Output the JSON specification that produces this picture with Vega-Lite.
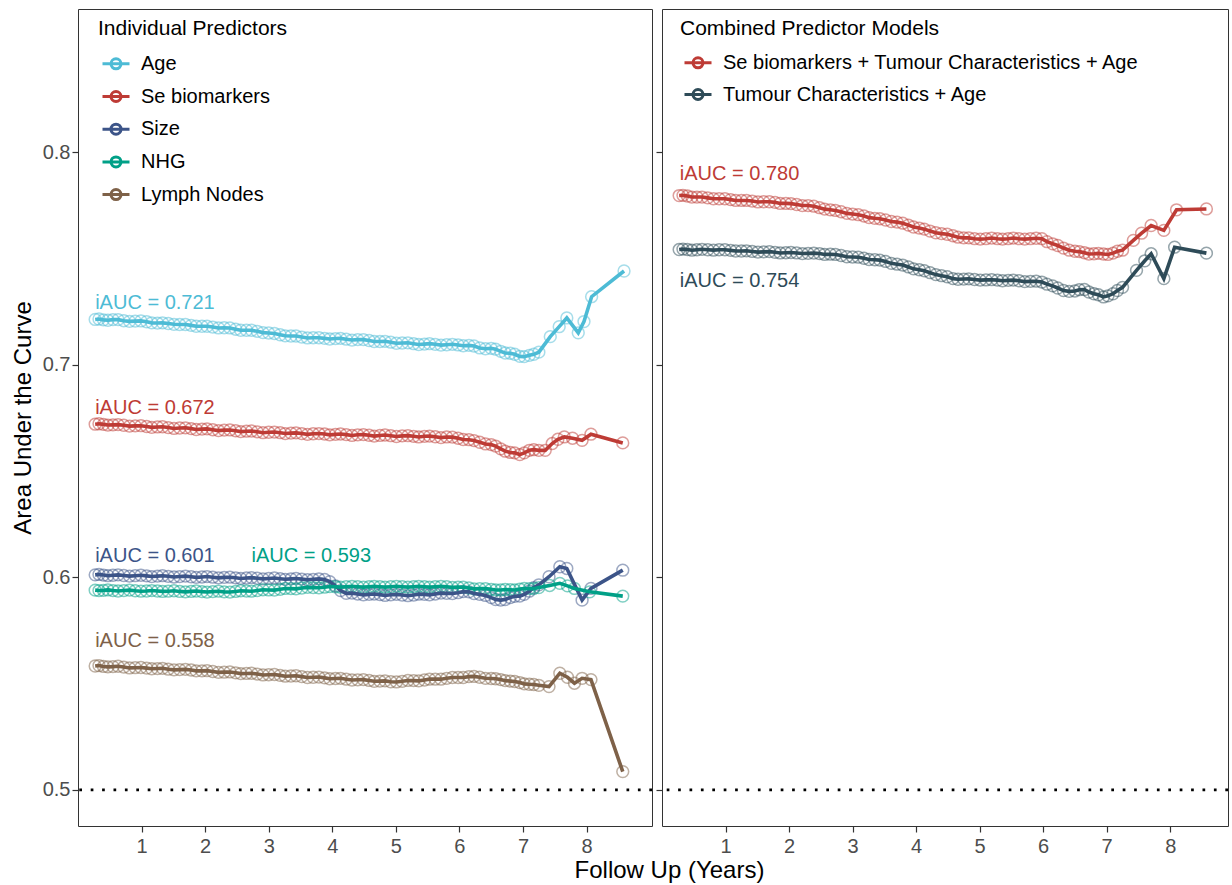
{
  "$schema": "https://vega.github.io/schema/vega-lite/v6.json",
  "padding": {"left": 10, "top": 8, "right": 2, "bottom": 0},
  "background": "white",
  "bounds": "flush",
  "spacing": 10,
  "config": {
    "font": "Liberation Sans",
    "view": {"stroke": "#333333", "strokeWidth": 1},
    "axis": {"grid": false, "domain": false, "tickColor": "#333333", "tickSize": 6, "tickWidth": 1.2, "labelFont": "Liberation Sans", "labelFontSize": 20, "labelColor": "#4d4d4d", "titleFont": "Liberation Sans", "titleFontSize": 24, "titleFontWeight": "normal", "titleColor": "#000000"},
    "legend": {"titleFont": "Liberation Sans", "labelFont": "Liberation Sans", "titleFontSize": 21, "titleFontWeight": "normal", "titleColor": "#000000", "labelFontSize": 20, "labelColor": "#000000", "padding": 0, "labelLimit": 800, "titleLimit": 800},
    "text": {"font": "Liberation Sans", "fontSize": 20, "align": "left", "baseline": "middle"}
  },
  "datasets": {
    "ind": [
      {"s":"Age","x":0.27,"y":0.7214},{"s":"Age","x":0.40,"y":0.7212},{"s":"Age","x":0.55,"y":0.7213},{"s":"Age","x":0.72,"y":0.7208},{"s":"Age","x":0.9,"y":0.7206},{"s":"Age","x":1.08,"y":0.7203},{"s":"Age","x":1.25,"y":0.7197},{"s":"Age","x":1.42,"y":0.7195},{"s":"Age","x":1.6,"y":0.719},{"s":"Age","x":1.78,"y":0.7186},{"s":"Age","x":1.95,"y":0.7182},{"s":"Age","x":2.12,"y":0.7178},{"s":"Age","x":2.3,"y":0.7175},{"s":"Age","x":2.48,"y":0.7168},{"s":"Age","x":2.65,"y":0.7163},{"s":"Age","x":2.82,"y":0.7158},{"s":"Age","x":3.0,"y":0.715},{"s":"Age","x":3.18,"y":0.7142},{"s":"Age","x":3.35,"y":0.7136},{"s":"Age","x":3.52,"y":0.7131},{"s":"Age","x":3.7,"y":0.7128},{"s":"Age","x":3.88,"y":0.7125},{"s":"Age","x":4.05,"y":0.7124},{"s":"Age","x":4.22,"y":0.7121},{"s":"Age","x":4.4,"y":0.7119},{"s":"Age","x":4.58,"y":0.7115},{"s":"Age","x":4.75,"y":0.711},{"s":"Age","x":4.92,"y":0.7107},{"s":"Age","x":5.1,"y":0.7103},{"s":"Age","x":5.28,"y":0.71},{"s":"Age","x":5.45,"y":0.7098},{"s":"Age","x":5.62,"y":0.7097},{"s":"Age","x":5.8,"y":0.7095},{"s":"Age","x":5.98,"y":0.7094},{"s":"Age","x":6.15,"y":0.7092},{"s":"Age","x":6.32,"y":0.708},{"s":"Age","x":6.5,"y":0.7078},{"s":"Age","x":6.65,"y":0.7064},{"s":"Age","x":6.8,"y":0.7055},{"s":"Age","x":6.95,"y":0.704},{"s":"Age","x":7.1,"y":0.7045},{"s":"Age","x":7.25,"y":0.706},{"s":"Age","x":7.43,"y":0.7133},{"s":"Age","x":7.57,"y":0.718},{"s":"Age","x":7.69,"y":0.7221},{"s":"Age","x":7.87,"y":0.7151},{"s":"Age","x":7.96,"y":0.7204},{"s":"Age","x":8.08,"y":0.7321},{"s":"Age","x":8.59,"y":0.7442},
      {"s":"Age","x":0.33,"y":0.7216},{"s":"Age","x":0.47,"y":0.721},{"s":"Age","x":0.63,"y":0.7213},{"s":"Age","x":0.81,"y":0.7205},{"s":"Age","x":0.99,"y":0.7207},{"s":"Age","x":1.16,"y":0.7198},{"s":"Age","x":1.33,"y":0.7198},{"s":"Age","x":1.51,"y":0.7191},{"s":"Age","x":1.69,"y":0.719},{"s":"Age","x":1.86,"y":0.7182},{"s":"Age","x":2.03,"y":0.7182},{"s":"Age","x":2.21,"y":0.7174},{"s":"Age","x":2.39,"y":0.7174},{"s":"Age","x":2.56,"y":0.7163},{"s":"Age","x":2.73,"y":0.7163},{"s":"Age","x":2.91,"y":0.7152},{"s":"Age","x":3.09,"y":0.7148},{"s":"Age","x":3.26,"y":0.7137},{"s":"Age","x":3.43,"y":0.7136},{"s":"Age","x":3.61,"y":0.7127},{"s":"Age","x":3.79,"y":0.7128},{"s":"Age","x":3.96,"y":0.7122},{"s":"Age","x":4.13,"y":0.7125},{"s":"Age","x":4.31,"y":0.7117},{"s":"Age","x":4.49,"y":0.7119},{"s":"Age","x":4.66,"y":0.711},{"s":"Age","x":4.83,"y":0.7111},{"s":"Age","x":5.01,"y":0.7102},{"s":"Age","x":5.19,"y":0.7104},{"s":"Age","x":5.36,"y":0.7096},{"s":"Age","x":5.53,"y":0.71},{"s":"Age","x":5.71,"y":0.7093},{"s":"Age","x":5.89,"y":0.7097},{"s":"Age","x":6.06,"y":0.709},{"s":"Age","x":6.23,"y":0.7089},{"s":"Age","x":6.41,"y":0.7076},{"s":"Age","x":6.57,"y":0.7074},{"s":"Age","x":6.72,"y":0.7056},{"s":"Age","x":6.87,"y":0.705},{"s":"Age","x":7.02,"y":0.7039},{"s":"Age","x":7.17,"y":0.705},
      {"s":"Se biomarkers","x":0.27,"y":0.6721},{"s":"Se biomarkers","x":0.40,"y":0.672},{"s":"Se biomarkers","x":0.55,"y":0.6718},{"s":"Se biomarkers","x":0.72,"y":0.6716},{"s":"Se biomarkers","x":0.9,"y":0.6713},{"s":"Se biomarkers","x":1.08,"y":0.671},{"s":"Se biomarkers","x":1.25,"y":0.6708},{"s":"Se biomarkers","x":1.42,"y":0.6705},{"s":"Se biomarkers","x":1.6,"y":0.6703},{"s":"Se biomarkers","x":1.78,"y":0.67},{"s":"Se biomarkers","x":1.95,"y":0.6698},{"s":"Se biomarkers","x":2.12,"y":0.6695},{"s":"Se biomarkers","x":2.3,"y":0.6693},{"s":"Se biomarkers","x":2.48,"y":0.669},{"s":"Se biomarkers","x":2.65,"y":0.6688},{"s":"Se biomarkers","x":2.82,"y":0.6685},{"s":"Se biomarkers","x":3.0,"y":0.6683},{"s":"Se biomarkers","x":3.18,"y":0.6681},{"s":"Se biomarkers","x":3.35,"y":0.6679},{"s":"Se biomarkers","x":3.52,"y":0.6677},{"s":"Se biomarkers","x":3.7,"y":0.6676},{"s":"Se biomarkers","x":3.88,"y":0.6675},{"s":"Se biomarkers","x":4.05,"y":0.6673},{"s":"Se biomarkers","x":4.22,"y":0.6672},{"s":"Se biomarkers","x":4.4,"y":0.6671},{"s":"Se biomarkers","x":4.58,"y":0.6669},{"s":"Se biomarkers","x":4.75,"y":0.6668},{"s":"Se biomarkers","x":4.92,"y":0.6667},{"s":"Se biomarkers","x":5.1,"y":0.6666},{"s":"Se biomarkers","x":5.28,"y":0.6664},{"s":"Se biomarkers","x":5.45,"y":0.6664},{"s":"Se biomarkers","x":5.62,"y":0.6662},{"s":"Se biomarkers","x":5.8,"y":0.6661},{"s":"Se biomarkers","x":5.98,"y":0.6655},{"s":"Se biomarkers","x":6.15,"y":0.6648},{"s":"Se biomarkers","x":6.32,"y":0.6636},{"s":"Se biomarkers","x":6.5,"y":0.6625},{"s":"Se biomarkers","x":6.65,"y":0.6605},{"s":"Se biomarkers","x":6.8,"y":0.6588},{"s":"Se biomarkers","x":6.95,"y":0.6578},{"s":"Se biomarkers","x":7.1,"y":0.6598},{"s":"Se biomarkers","x":7.25,"y":0.6598},{"s":"Se biomarkers","x":7.35,"y":0.6598},{"s":"Se biomarkers","x":7.46,"y":0.663},{"s":"Se biomarkers","x":7.55,"y":0.665},{"s":"Se biomarkers","x":7.65,"y":0.6661},{"s":"Se biomarkers","x":7.78,"y":0.6655},{"s":"Se biomarkers","x":7.93,"y":0.6645},{"s":"Se biomarkers","x":8.07,"y":0.6674},{"s":"Se biomarkers","x":8.57,"y":0.6633},
      {"s":"Se biomarkers","x":0.33,"y":0.6723},{"s":"Se biomarkers","x":0.47,"y":0.6717},{"s":"Se biomarkers","x":0.63,"y":0.6719},{"s":"Se biomarkers","x":0.81,"y":0.6712},{"s":"Se biomarkers","x":0.99,"y":0.6714},{"s":"Se biomarkers","x":1.16,"y":0.6706},{"s":"Se biomarkers","x":1.33,"y":0.6709},{"s":"Se biomarkers","x":1.51,"y":0.6701},{"s":"Se biomarkers","x":1.69,"y":0.6704},{"s":"Se biomarkers","x":1.86,"y":0.6696},{"s":"Se biomarkers","x":2.03,"y":0.6699},{"s":"Se biomarkers","x":2.21,"y":0.6691},{"s":"Se biomarkers","x":2.39,"y":0.6694},{"s":"Se biomarkers","x":2.56,"y":0.6686},{"s":"Se biomarkers","x":2.73,"y":0.6689},{"s":"Se biomarkers","x":2.91,"y":0.6681},{"s":"Se biomarkers","x":3.09,"y":0.6684},{"s":"Se biomarkers","x":3.26,"y":0.6677},{"s":"Se biomarkers","x":3.43,"y":0.668},{"s":"Se biomarkers","x":3.61,"y":0.6673},{"s":"Se biomarkers","x":3.79,"y":0.6677},{"s":"Se biomarkers","x":3.96,"y":0.6671},{"s":"Se biomarkers","x":4.13,"y":0.6675},{"s":"Se biomarkers","x":4.31,"y":0.6668},{"s":"Se biomarkers","x":4.49,"y":0.6672},{"s":"Se biomarkers","x":4.66,"y":0.6665},{"s":"Se biomarkers","x":4.83,"y":0.667},{"s":"Se biomarkers","x":5.01,"y":0.6663},{"s":"Se biomarkers","x":5.19,"y":0.6667},{"s":"Se biomarkers","x":5.36,"y":0.6661},{"s":"Se biomarkers","x":5.53,"y":0.6665},{"s":"Se biomarkers","x":5.71,"y":0.6658},{"s":"Se biomarkers","x":5.89,"y":0.666},{"s":"Se biomarkers","x":6.06,"y":0.6649},{"s":"Se biomarkers","x":6.23,"y":0.6644},{"s":"Se biomarkers","x":6.41,"y":0.6628},{"s":"Se biomarkers","x":6.57,"y":0.6618},{"s":"Se biomarkers","x":6.72,"y":0.6594},{"s":"Se biomarkers","x":6.87,"y":0.6586},{"s":"Se biomarkers","x":7.02,"y":0.6586},{"s":"Se biomarkers","x":7.17,"y":0.6601},
      {"s":"Size","x":0.27,"y":0.6012},{"s":"Size","x":0.40,"y":0.6011},{"s":"Size","x":0.55,"y":0.601},{"s":"Size","x":0.72,"y":0.6009},{"s":"Size","x":0.9,"y":0.6008},{"s":"Size","x":1.08,"y":0.6007},{"s":"Size","x":1.25,"y":0.6006},{"s":"Size","x":1.42,"y":0.6005},{"s":"Size","x":1.6,"y":0.6004},{"s":"Size","x":1.78,"y":0.6003},{"s":"Size","x":1.95,"y":0.6002},{"s":"Size","x":2.12,"y":0.6001},{"s":"Size","x":2.3,"y":0.6},{"s":"Size","x":2.48,"y":0.5998},{"s":"Size","x":2.65,"y":0.5997},{"s":"Size","x":2.82,"y":0.5996},{"s":"Size","x":3.0,"y":0.5995},{"s":"Size","x":3.18,"y":0.5994},{"s":"Size","x":3.35,"y":0.5993},{"s":"Size","x":3.52,"y":0.5992},{"s":"Size","x":3.7,"y":0.5991},{"s":"Size","x":3.88,"y":0.599},{"s":"Size","x":4.05,"y":0.596},{"s":"Size","x":4.22,"y":0.5925},{"s":"Size","x":4.4,"y":0.5922},{"s":"Size","x":4.58,"y":0.592},{"s":"Size","x":4.75,"y":0.5919},{"s":"Size","x":4.92,"y":0.5918},{"s":"Size","x":5.1,"y":0.5917},{"s":"Size","x":5.28,"y":0.5917},{"s":"Size","x":5.45,"y":0.592},{"s":"Size","x":5.62,"y":0.5922},{"s":"Size","x":5.8,"y":0.5925},{"s":"Size","x":5.98,"y":0.5928},{"s":"Size","x":6.15,"y":0.5932},{"s":"Size","x":6.32,"y":0.592},{"s":"Size","x":6.5,"y":0.5905},{"s":"Size","x":6.65,"y":0.5893},{"s":"Size","x":6.8,"y":0.5905},{"s":"Size","x":6.95,"y":0.5912},{"s":"Size","x":7.1,"y":0.5935},{"s":"Size","x":7.25,"y":0.5965},{"s":"Size","x":7.41,"y":0.6003},{"s":"Size","x":7.58,"y":0.605},{"s":"Size","x":7.69,"y":0.6042},{"s":"Size","x":7.93,"y":0.5893},{"s":"Size","x":8.07,"y":0.5948},{"s":"Size","x":8.57,"y":0.6034},
      {"s":"Size","x":0.33,"y":0.6014},{"s":"Size","x":0.47,"y":0.6008},{"s":"Size","x":0.63,"y":0.6012},{"s":"Size","x":0.81,"y":0.6006},{"s":"Size","x":0.99,"y":0.601},{"s":"Size","x":1.16,"y":0.6004},{"s":"Size","x":1.33,"y":0.6008},{"s":"Size","x":1.51,"y":0.6002},{"s":"Size","x":1.69,"y":0.6006},{"s":"Size","x":1.86,"y":0.6},{"s":"Size","x":2.03,"y":0.6004},{"s":"Size","x":2.21,"y":0.5998},{"s":"Size","x":2.39,"y":0.6001},{"s":"Size","x":2.56,"y":0.5995},{"s":"Size","x":2.73,"y":0.5999},{"s":"Size","x":2.91,"y":0.5993},{"s":"Size","x":3.09,"y":0.5997},{"s":"Size","x":3.26,"y":0.5991},{"s":"Size","x":3.43,"y":0.5995},{"s":"Size","x":3.61,"y":0.5989},{"s":"Size","x":3.79,"y":0.5993},{"s":"Size","x":3.96,"y":0.598},{"s":"Size","x":4.13,"y":0.5938},{"s":"Size","x":4.31,"y":0.5926},{"s":"Size","x":4.49,"y":0.5918},{"s":"Size","x":4.66,"y":0.5922},{"s":"Size","x":4.83,"y":0.5915},{"s":"Size","x":5.01,"y":0.592},{"s":"Size","x":5.19,"y":0.5914},{"s":"Size","x":5.36,"y":0.5921},{"s":"Size","x":5.53,"y":0.5918},{"s":"Size","x":5.71,"y":0.5926},{"s":"Size","x":5.89,"y":0.5924},{"s":"Size","x":6.06,"y":0.5933},{"s":"Size","x":6.23,"y":0.5924},{"s":"Size","x":6.41,"y":0.5915},{"s":"Size","x":6.57,"y":0.5896},{"s":"Size","x":6.72,"y":0.5896},{"s":"Size","x":6.87,"y":0.5911},{"s":"Size","x":7.02,"y":0.592},{"s":"Size","x":7.17,"y":0.5952},
      {"s":"NHG","x":0.27,"y":0.594},{"s":"NHG","x":0.40,"y":0.5939},{"s":"NHG","x":0.55,"y":0.5938},{"s":"NHG","x":0.72,"y":0.5938},{"s":"NHG","x":0.9,"y":0.5937},{"s":"NHG","x":1.08,"y":0.5936},{"s":"NHG","x":1.25,"y":0.5936},{"s":"NHG","x":1.42,"y":0.5935},{"s":"NHG","x":1.6,"y":0.5934},{"s":"NHG","x":1.78,"y":0.5934},{"s":"NHG","x":1.95,"y":0.5933},{"s":"NHG","x":2.12,"y":0.5933},{"s":"NHG","x":2.3,"y":0.5932},{"s":"NHG","x":2.48,"y":0.5934},{"s":"NHG","x":2.65,"y":0.5936},{"s":"NHG","x":2.82,"y":0.5938},{"s":"NHG","x":3.0,"y":0.5941},{"s":"NHG","x":3.18,"y":0.5944},{"s":"NHG","x":3.35,"y":0.5947},{"s":"NHG","x":3.52,"y":0.595},{"s":"NHG","x":3.7,"y":0.5952},{"s":"NHG","x":3.88,"y":0.5954},{"s":"NHG","x":4.05,"y":0.5956},{"s":"NHG","x":4.22,"y":0.5956},{"s":"NHG","x":4.4,"y":0.5956},{"s":"NHG","x":4.58,"y":0.5956},{"s":"NHG","x":4.75,"y":0.5956},{"s":"NHG","x":4.92,"y":0.5956},{"s":"NHG","x":5.1,"y":0.5956},{"s":"NHG","x":5.28,"y":0.5956},{"s":"NHG","x":5.45,"y":0.5956},{"s":"NHG","x":5.62,"y":0.5956},{"s":"NHG","x":5.8,"y":0.5956},{"s":"NHG","x":5.98,"y":0.5954},{"s":"NHG","x":6.15,"y":0.595},{"s":"NHG","x":6.32,"y":0.5947},{"s":"NHG","x":6.5,"y":0.5944},{"s":"NHG","x":6.65,"y":0.5941},{"s":"NHG","x":6.8,"y":0.5942},{"s":"NHG","x":6.95,"y":0.5945},{"s":"NHG","x":7.1,"y":0.5947},{"s":"NHG","x":7.25,"y":0.5952},{"s":"NHG","x":7.42,"y":0.5962},{"s":"NHG","x":7.58,"y":0.5972},{"s":"NHG","x":7.7,"y":0.596},{"s":"NHG","x":7.81,"y":0.5948},{"s":"NHG","x":8.05,"y":0.5932},{"s":"NHG","x":8.57,"y":0.5912},
      {"s":"NHG","x":0.33,"y":0.5938},{"s":"NHG","x":0.47,"y":0.5941},{"s":"NHG","x":0.63,"y":0.5936},{"s":"NHG","x":0.81,"y":0.594},{"s":"NHG","x":0.99,"y":0.5935},{"s":"NHG","x":1.16,"y":0.5938},{"s":"NHG","x":1.33,"y":0.5934},{"s":"NHG","x":1.51,"y":0.5937},{"s":"NHG","x":1.69,"y":0.5932},{"s":"NHG","x":1.86,"y":0.5936},{"s":"NHG","x":2.03,"y":0.5931},{"s":"NHG","x":2.21,"y":0.5935},{"s":"NHG","x":2.39,"y":0.5931},{"s":"NHG","x":2.56,"y":0.5937},{"s":"NHG","x":2.73,"y":0.5935},{"s":"NHG","x":2.91,"y":0.5942},{"s":"NHG","x":3.09,"y":0.594},{"s":"NHG","x":3.26,"y":0.5948},{"s":"NHG","x":3.43,"y":0.5946},{"s":"NHG","x":3.61,"y":0.5953},{"s":"NHG","x":3.79,"y":0.5951},{"s":"NHG","x":3.96,"y":0.5957},{"s":"NHG","x":4.13,"y":0.5954},{"s":"NHG","x":4.31,"y":0.5958},{"s":"NHG","x":4.49,"y":0.5954},{"s":"NHG","x":4.66,"y":0.5958},{"s":"NHG","x":4.83,"y":0.5954},{"s":"NHG","x":5.01,"y":0.5958},{"s":"NHG","x":5.19,"y":0.5954},{"s":"NHG","x":5.36,"y":0.5958},{"s":"NHG","x":5.53,"y":0.5954},{"s":"NHG","x":5.71,"y":0.5958},{"s":"NHG","x":5.89,"y":0.5953},{"s":"NHG","x":6.06,"y":0.5954},{"s":"NHG","x":6.23,"y":0.5946},{"s":"NHG","x":6.41,"y":0.5947},{"s":"NHG","x":6.57,"y":0.5941},{"s":"NHG","x":6.72,"y":0.5943},{"s":"NHG","x":6.87,"y":0.5941},{"s":"NHG","x":7.02,"y":0.5948},{"s":"NHG","x":7.17,"y":0.5947},
      {"s":"Lymph Nodes","x":0.27,"y":0.5583},{"s":"Lymph Nodes","x":0.40,"y":0.5581},{"s":"Lymph Nodes","x":0.55,"y":0.558},{"s":"Lymph Nodes","x":0.72,"y":0.5578},{"s":"Lymph Nodes","x":0.9,"y":0.5575},{"s":"Lymph Nodes","x":1.08,"y":0.5573},{"s":"Lymph Nodes","x":1.25,"y":0.5571},{"s":"Lymph Nodes","x":1.42,"y":0.5568},{"s":"Lymph Nodes","x":1.6,"y":0.5566},{"s":"Lymph Nodes","x":1.78,"y":0.5564},{"s":"Lymph Nodes","x":1.95,"y":0.556},{"s":"Lymph Nodes","x":2.12,"y":0.5557},{"s":"Lymph Nodes","x":2.3,"y":0.5554},{"s":"Lymph Nodes","x":2.48,"y":0.5551},{"s":"Lymph Nodes","x":2.65,"y":0.5548},{"s":"Lymph Nodes","x":2.82,"y":0.5545},{"s":"Lymph Nodes","x":3.0,"y":0.5542},{"s":"Lymph Nodes","x":3.18,"y":0.5539},{"s":"Lymph Nodes","x":3.35,"y":0.5536},{"s":"Lymph Nodes","x":3.52,"y":0.5533},{"s":"Lymph Nodes","x":3.7,"y":0.553},{"s":"Lymph Nodes","x":3.88,"y":0.5527},{"s":"Lymph Nodes","x":4.05,"y":0.5524},{"s":"Lymph Nodes","x":4.22,"y":0.5521},{"s":"Lymph Nodes","x":4.4,"y":0.5518},{"s":"Lymph Nodes","x":4.58,"y":0.5515},{"s":"Lymph Nodes","x":4.75,"y":0.5512},{"s":"Lymph Nodes","x":4.92,"y":0.5509},{"s":"Lymph Nodes","x":5.1,"y":0.5511},{"s":"Lymph Nodes","x":5.28,"y":0.5514},{"s":"Lymph Nodes","x":5.45,"y":0.5517},{"s":"Lymph Nodes","x":5.62,"y":0.5521},{"s":"Lymph Nodes","x":5.8,"y":0.5525},{"s":"Lymph Nodes","x":5.98,"y":0.5529},{"s":"Lymph Nodes","x":6.15,"y":0.5533},{"s":"Lymph Nodes","x":6.32,"y":0.553},{"s":"Lymph Nodes","x":6.5,"y":0.5524},{"s":"Lymph Nodes","x":6.65,"y":0.5519},{"s":"Lymph Nodes","x":6.8,"y":0.5512},{"s":"Lymph Nodes","x":6.95,"y":0.5505},{"s":"Lymph Nodes","x":7.1,"y":0.5497},{"s":"Lymph Nodes","x":7.25,"y":0.5492},{"s":"Lymph Nodes","x":7.41,"y":0.5486},{"s":"Lymph Nodes","x":7.58,"y":0.5549},{"s":"Lymph Nodes","x":7.7,"y":0.553},{"s":"Lymph Nodes","x":7.81,"y":0.5502},{"s":"Lymph Nodes","x":7.93,"y":0.5525},{"s":"Lymph Nodes","x":8.07,"y":0.5519},{"s":"Lymph Nodes","x":8.57,"y":0.5086},
      {"s":"Lymph Nodes","x":0.33,"y":0.5585},{"s":"Lymph Nodes","x":0.47,"y":0.5579},{"s":"Lymph Nodes","x":0.63,"y":0.5582},{"s":"Lymph Nodes","x":0.81,"y":0.5574},{"s":"Lymph Nodes","x":0.99,"y":0.5576},{"s":"Lymph Nodes","x":1.16,"y":0.557},{"s":"Lymph Nodes","x":1.33,"y":0.5572},{"s":"Lymph Nodes","x":1.51,"y":0.5565},{"s":"Lymph Nodes","x":1.69,"y":0.5567},{"s":"Lymph Nodes","x":1.86,"y":0.556},{"s":"Lymph Nodes","x":2.03,"y":0.5561},{"s":"Lymph Nodes","x":2.21,"y":0.5553},{"s":"Lymph Nodes","x":2.39,"y":0.5555},{"s":"Lymph Nodes","x":2.56,"y":0.5547},{"s":"Lymph Nodes","x":2.73,"y":0.5549},{"s":"Lymph Nodes","x":2.91,"y":0.5541},{"s":"Lymph Nodes","x":3.09,"y":0.5543},{"s":"Lymph Nodes","x":3.26,"y":0.5535},{"s":"Lymph Nodes","x":3.43,"y":0.5537},{"s":"Lymph Nodes","x":3.61,"y":0.5529},{"s":"Lymph Nodes","x":3.79,"y":0.5531},{"s":"Lymph Nodes","x":3.96,"y":0.5523},{"s":"Lymph Nodes","x":4.13,"y":0.5525},{"s":"Lymph Nodes","x":4.31,"y":0.5517},{"s":"Lymph Nodes","x":4.49,"y":0.5519},{"s":"Lymph Nodes","x":4.66,"y":0.5511},{"s":"Lymph Nodes","x":4.83,"y":0.5513},{"s":"Lymph Nodes","x":5.01,"y":0.5508},{"s":"Lymph Nodes","x":5.19,"y":0.5515},{"s":"Lymph Nodes","x":5.36,"y":0.5513},{"s":"Lymph Nodes","x":5.53,"y":0.5521},{"s":"Lymph Nodes","x":5.71,"y":0.5521},{"s":"Lymph Nodes","x":5.89,"y":0.5529},{"s":"Lymph Nodes","x":6.06,"y":0.5529},{"s":"Lymph Nodes","x":6.23,"y":0.5534},{"s":"Lymph Nodes","x":6.41,"y":0.5525},{"s":"Lymph Nodes","x":6.57,"y":0.5523},{"s":"Lymph Nodes","x":6.72,"y":0.5514},{"s":"Lymph Nodes","x":6.87,"y":0.551},{"s":"Lymph Nodes","x":7.02,"y":0.5499},{"s":"Lymph Nodes","x":7.17,"y":0.5496}
    ],
    "comb": [
      {"s":"Se biomarkers + Tumour Characteristics + Age","x":0.27,"y":0.7797},{"s":"Se biomarkers + Tumour Characteristics + Age","x":0.40,"y":0.7795},{"s":"Se biomarkers + Tumour Characteristics + Age","x":0.55,"y":0.779},{"s":"Se biomarkers + Tumour Characteristics + Age","x":0.72,"y":0.7786},{"s":"Se biomarkers + Tumour Characteristics + Age","x":0.9,"y":0.7782},{"s":"Se biomarkers + Tumour Characteristics + Age","x":1.08,"y":0.7778},{"s":"Se biomarkers + Tumour Characteristics + Age","x":1.25,"y":0.7774},{"s":"Se biomarkers + Tumour Characteristics + Age","x":1.42,"y":0.7771},{"s":"Se biomarkers + Tumour Characteristics + Age","x":1.6,"y":0.7768},{"s":"Se biomarkers + Tumour Characteristics + Age","x":1.78,"y":0.7765},{"s":"Se biomarkers + Tumour Characteristics + Age","x":1.95,"y":0.776},{"s":"Se biomarkers + Tumour Characteristics + Age","x":2.12,"y":0.7755},{"s":"Se biomarkers + Tumour Characteristics + Age","x":2.3,"y":0.775},{"s":"Se biomarkers + Tumour Characteristics + Age","x":2.48,"y":0.774},{"s":"Se biomarkers + Tumour Characteristics + Age","x":2.65,"y":0.773},{"s":"Se biomarkers + Tumour Characteristics + Age","x":2.82,"y":0.7721},{"s":"Se biomarkers + Tumour Characteristics + Age","x":3.0,"y":0.771},{"s":"Se biomarkers + Tumour Characteristics + Age","x":3.18,"y":0.7701},{"s":"Se biomarkers + Tumour Characteristics + Age","x":3.35,"y":0.769},{"s":"Se biomarkers + Tumour Characteristics + Age","x":3.52,"y":0.7682},{"s":"Se biomarkers + Tumour Characteristics + Age","x":3.7,"y":0.7672},{"s":"Se biomarkers + Tumour Characteristics + Age","x":3.88,"y":0.7658},{"s":"Se biomarkers + Tumour Characteristics + Age","x":4.05,"y":0.7644},{"s":"Se biomarkers + Tumour Characteristics + Age","x":4.22,"y":0.763},{"s":"Se biomarkers + Tumour Characteristics + Age","x":4.4,"y":0.7618},{"s":"Se biomarkers + Tumour Characteristics + Age","x":4.58,"y":0.7608},{"s":"Se biomarkers + Tumour Characteristics + Age","x":4.75,"y":0.7598},{"s":"Se biomarkers + Tumour Characteristics + Age","x":4.92,"y":0.7594},{"s":"Se biomarkers + Tumour Characteristics + Age","x":5.1,"y":0.7594},{"s":"Se biomarkers + Tumour Characteristics + Age","x":5.28,"y":0.7594},{"s":"Se biomarkers + Tumour Characteristics + Age","x":5.45,"y":0.7594},{"s":"Se biomarkers + Tumour Characteristics + Age","x":5.62,"y":0.7594},{"s":"Se biomarkers + Tumour Characteristics + Age","x":5.8,"y":0.7594},{"s":"Se biomarkers + Tumour Characteristics + Age","x":5.98,"y":0.7594},{"s":"Se biomarkers + Tumour Characteristics + Age","x":6.15,"y":0.757},{"s":"Se biomarkers + Tumour Characteristics + Age","x":6.32,"y":0.755},{"s":"Se biomarkers + Tumour Characteristics + Age","x":6.5,"y":0.7535},{"s":"Se biomarkers + Tumour Characteristics + Age","x":6.65,"y":0.7528},{"s":"Se biomarkers + Tumour Characteristics + Age","x":6.8,"y":0.7523},{"s":"Se biomarkers + Tumour Characteristics + Age","x":6.95,"y":0.7522},{"s":"Se biomarkers + Tumour Characteristics + Age","x":7.1,"y":0.7526},{"s":"Se biomarkers + Tumour Characteristics + Age","x":7.25,"y":0.754},{"s":"Se biomarkers + Tumour Characteristics + Age","x":7.42,"y":0.7586},{"s":"Se biomarkers + Tumour Characteristics + Age","x":7.55,"y":0.762},{"s":"Se biomarkers + Tumour Characteristics + Age","x":7.7,"y":0.7656},{"s":"Se biomarkers + Tumour Characteristics + Age","x":7.9,"y":0.7633},{"s":"Se biomarkers + Tumour Characteristics + Age","x":8.1,"y":0.773},{"s":"Se biomarkers + Tumour Characteristics + Age","x":8.57,"y":0.7734},
      {"s":"Se biomarkers + Tumour Characteristics + Age","x":0.33,"y":0.7798},{"s":"Se biomarkers + Tumour Characteristics + Age","x":0.47,"y":0.779},{"s":"Se biomarkers + Tumour Characteristics + Age","x":0.63,"y":0.779},{"s":"Se biomarkers + Tumour Characteristics + Age","x":0.81,"y":0.7782},{"s":"Se biomarkers + Tumour Characteristics + Age","x":0.99,"y":0.7782},{"s":"Se biomarkers + Tumour Characteristics + Age","x":1.16,"y":0.7774},{"s":"Se biomarkers + Tumour Characteristics + Age","x":1.33,"y":0.7774},{"s":"Se biomarkers + Tumour Characteristics + Age","x":1.51,"y":0.7767},{"s":"Se biomarkers + Tumour Characteristics + Age","x":1.69,"y":0.7768},{"s":"Se biomarkers + Tumour Characteristics + Age","x":1.86,"y":0.776},{"s":"Se biomarkers + Tumour Characteristics + Age","x":2.03,"y":0.7759},{"s":"Se biomarkers + Tumour Characteristics + Age","x":2.21,"y":0.775},{"s":"Se biomarkers + Tumour Characteristics + Age","x":2.39,"y":0.7747},{"s":"Se biomarkers + Tumour Characteristics + Age","x":2.56,"y":0.7733},{"s":"Se biomarkers + Tumour Characteristics + Age","x":2.73,"y":0.7727},{"s":"Se biomarkers + Tumour Characteristics + Age","x":2.91,"y":0.7713},{"s":"Se biomarkers + Tumour Characteristics + Age","x":3.09,"y":0.7707},{"s":"Se biomarkers + Tumour Characteristics + Age","x":3.26,"y":0.7693},{"s":"Se biomarkers + Tumour Characteristics + Age","x":3.43,"y":0.7688},{"s":"Se biomarkers + Tumour Characteristics + Age","x":3.61,"y":0.7675},{"s":"Se biomarkers + Tumour Characteristics + Age","x":3.79,"y":0.7667},{"s":"Se biomarkers + Tumour Characteristics + Age","x":3.96,"y":0.7649},{"s":"Se biomarkers + Tumour Characteristics + Age","x":4.13,"y":0.7639},{"s":"Se biomarkers + Tumour Characteristics + Age","x":4.31,"y":0.7622},{"s":"Se biomarkers + Tumour Characteristics + Age","x":4.49,"y":0.7615},{"s":"Se biomarkers + Tumour Characteristics + Age","x":4.66,"y":0.7601},{"s":"Se biomarkers + Tumour Characteristics + Age","x":4.83,"y":0.7598},{"s":"Se biomarkers + Tumour Characteristics + Age","x":5.01,"y":0.7592},{"s":"Se biomarkers + Tumour Characteristics + Age","x":5.19,"y":0.7597},{"s":"Se biomarkers + Tumour Characteristics + Age","x":5.36,"y":0.7592},{"s":"Se biomarkers + Tumour Characteristics + Age","x":5.53,"y":0.7597},{"s":"Se biomarkers + Tumour Characteristics + Age","x":5.71,"y":0.7592},{"s":"Se biomarkers + Tumour Characteristics + Age","x":5.89,"y":0.7596},{"s":"Se biomarkers + Tumour Characteristics + Age","x":6.06,"y":0.758},{"s":"Se biomarkers + Tumour Characteristics + Age","x":6.23,"y":0.7562},{"s":"Se biomarkers + Tumour Characteristics + Age","x":6.41,"y":0.754},{"s":"Se biomarkers + Tumour Characteristics + Age","x":6.57,"y":0.7533},{"s":"Se biomarkers + Tumour Characteristics + Age","x":6.72,"y":0.7522},{"s":"Se biomarkers + Tumour Characteristics + Age","x":6.87,"y":0.7525},{"s":"Se biomarkers + Tumour Characteristics + Age","x":7.02,"y":0.752},{"s":"Se biomarkers + Tumour Characteristics + Age","x":7.17,"y":0.7535},
      {"s":"Tumour Characteristics + Age","x":0.27,"y":0.7543},{"s":"Tumour Characteristics + Age","x":0.40,"y":0.7543},{"s":"Tumour Characteristics + Age","x":0.55,"y":0.7542},{"s":"Tumour Characteristics + Age","x":0.72,"y":0.7542},{"s":"Tumour Characteristics + Age","x":0.9,"y":0.7542},{"s":"Tumour Characteristics + Age","x":1.08,"y":0.7539},{"s":"Tumour Characteristics + Age","x":1.25,"y":0.7536},{"s":"Tumour Characteristics + Age","x":1.42,"y":0.7534},{"s":"Tumour Characteristics + Age","x":1.6,"y":0.7532},{"s":"Tumour Characteristics + Age","x":1.78,"y":0.753},{"s":"Tumour Characteristics + Age","x":1.95,"y":0.7528},{"s":"Tumour Characteristics + Age","x":2.12,"y":0.7527},{"s":"Tumour Characteristics + Age","x":2.3,"y":0.7525},{"s":"Tumour Characteristics + Age","x":2.48,"y":0.7524},{"s":"Tumour Characteristics + Age","x":2.65,"y":0.7521},{"s":"Tumour Characteristics + Age","x":2.82,"y":0.7515},{"s":"Tumour Characteristics + Age","x":3.0,"y":0.7508},{"s":"Tumour Characteristics + Age","x":3.18,"y":0.7502},{"s":"Tumour Characteristics + Age","x":3.35,"y":0.7495},{"s":"Tumour Characteristics + Age","x":3.52,"y":0.7487},{"s":"Tumour Characteristics + Age","x":3.7,"y":0.7474},{"s":"Tumour Characteristics + Age","x":3.88,"y":0.7461},{"s":"Tumour Characteristics + Age","x":4.05,"y":0.7448},{"s":"Tumour Characteristics + Age","x":4.22,"y":0.7434},{"s":"Tumour Characteristics + Age","x":4.4,"y":0.742},{"s":"Tumour Characteristics + Age","x":4.58,"y":0.7406},{"s":"Tumour Characteristics + Age","x":4.75,"y":0.7404},{"s":"Tumour Characteristics + Age","x":4.92,"y":0.7402},{"s":"Tumour Characteristics + Age","x":5.1,"y":0.74},{"s":"Tumour Characteristics + Age","x":5.28,"y":0.7399},{"s":"Tumour Characteristics + Age","x":5.45,"y":0.7398},{"s":"Tumour Characteristics + Age","x":5.62,"y":0.7396},{"s":"Tumour Characteristics + Age","x":5.8,"y":0.7393},{"s":"Tumour Characteristics + Age","x":5.98,"y":0.739},{"s":"Tumour Characteristics + Age","x":6.15,"y":0.7372},{"s":"Tumour Characteristics + Age","x":6.32,"y":0.735},{"s":"Tumour Characteristics + Age","x":6.5,"y":0.7348},{"s":"Tumour Characteristics + Age","x":6.65,"y":0.7355},{"s":"Tumour Characteristics + Age","x":6.8,"y":0.7335},{"s":"Tumour Characteristics + Age","x":6.95,"y":0.732},{"s":"Tumour Characteristics + Age","x":7.1,"y":0.7335},{"s":"Tumour Characteristics + Age","x":7.25,"y":0.7365},{"s":"Tumour Characteristics + Age","x":7.47,"y":0.7445},{"s":"Tumour Characteristics + Age","x":7.6,"y":0.749},{"s":"Tumour Characteristics + Age","x":7.7,"y":0.7523},{"s":"Tumour Characteristics + Age","x":7.9,"y":0.7406},{"s":"Tumour Characteristics + Age","x":8.07,"y":0.7554},{"s":"Tumour Characteristics + Age","x":8.57,"y":0.7526},
      {"s":"Tumour Characteristics + Age","x":0.33,"y":0.7545},{"s":"Tumour Characteristics + Age","x":0.47,"y":0.754},{"s":"Tumour Characteristics + Age","x":0.63,"y":0.7544},{"s":"Tumour Characteristics + Age","x":0.81,"y":0.754},{"s":"Tumour Characteristics + Age","x":0.99,"y":0.7542},{"s":"Tumour Characteristics + Age","x":1.16,"y":0.7536},{"s":"Tumour Characteristics + Age","x":1.33,"y":0.7537},{"s":"Tumour Characteristics + Age","x":1.51,"y":0.7531},{"s":"Tumour Characteristics + Age","x":1.69,"y":0.7533},{"s":"Tumour Characteristics + Age","x":1.86,"y":0.7527},{"s":"Tumour Characteristics + Age","x":2.03,"y":0.7529},{"s":"Tumour Characteristics + Age","x":2.21,"y":0.7524},{"s":"Tumour Characteristics + Age","x":2.39,"y":0.7526},{"s":"Tumour Characteristics + Age","x":2.56,"y":0.752},{"s":"Tumour Characteristics + Age","x":2.73,"y":0.752},{"s":"Tumour Characteristics + Age","x":2.91,"y":0.7509},{"s":"Tumour Characteristics + Age","x":3.09,"y":0.7507},{"s":"Tumour Characteristics + Age","x":3.26,"y":0.7496},{"s":"Tumour Characteristics + Age","x":3.43,"y":0.7493},{"s":"Tumour Characteristics + Age","x":3.61,"y":0.7478},{"s":"Tumour Characteristics + Age","x":3.79,"y":0.747},{"s":"Tumour Characteristics + Age","x":3.96,"y":0.7452},{"s":"Tumour Characteristics + Age","x":4.13,"y":0.7443},{"s":"Tumour Characteristics + Age","x":4.31,"y":0.7425},{"s":"Tumour Characteristics + Age","x":4.49,"y":0.7415},{"s":"Tumour Characteristics + Age","x":4.66,"y":0.7403},{"s":"Tumour Characteristics + Age","x":4.83,"y":0.7405},{"s":"Tumour Characteristics + Age","x":5.01,"y":0.7399},{"s":"Tumour Characteristics + Age","x":5.19,"y":0.7401},{"s":"Tumour Characteristics + Age","x":5.36,"y":0.7396},{"s":"Tumour Characteristics + Age","x":5.53,"y":0.7399},{"s":"Tumour Characteristics + Age","x":5.71,"y":0.7392},{"s":"Tumour Characteristics + Age","x":5.89,"y":0.7394},{"s":"Tumour Characteristics + Age","x":6.06,"y":0.738},{"s":"Tumour Characteristics + Age","x":6.23,"y":0.7362},{"s":"Tumour Characteristics + Age","x":6.41,"y":0.7346},{"s":"Tumour Characteristics + Age","x":6.57,"y":0.7354},{"s":"Tumour Characteristics + Age","x":6.72,"y":0.7343},{"s":"Tumour Characteristics + Age","x":6.87,"y":0.733},{"s":"Tumour Characteristics + Age","x":7.02,"y":0.7325},{"s":"Tumour Characteristics + Age","x":7.17,"y":0.735}
    ],
    "lab": [
      {"s":"Age","x":0.27,"y":0.7293,"t":"iAUC = 0.721"},
      {"s":"Se biomarkers","x":0.27,"y":0.6795,"t":"iAUC = 0.672"},
      {"s":"Size","x":0.27,"y":0.6102,"t":"iAUC = 0.601"},
      {"s":"NHG","x":2.73,"y":0.6102,"t":"iAUC = 0.593"},
      {"s":"Lymph Nodes","x":0.27,"y":0.5699,"t":"iAUC = 0.558"},
      {"s":"Se biomarkers + Tumour Characteristics + Age","x":0.28,"y":0.7897,"t":"iAUC = 0.780"},
      {"s":"Tumour Characteristics + Age","x":0.28,"y":0.7396,"t":"iAUC = 0.754"}
    ]
  },
  "hconcat": [
    {
      "width": 574,
      "height": 817,
      "layer": [
        {
          "data": {"values": [{"v": 0.5}]},
          "mark": {"type": "rule", "color": "#000000", "strokeWidth": 2.7, "strokeDash": [2.7, 8.7]},
          "encoding": {"y": {"field": "v", "type": "quantitative", "scale": {"domain": [0.483, 0.8675], "nice": false, "zero": false}}}
        },
        {
          "data": {"name": "ind"},
          "mark": {"type": "point", "shape": "circle", "filled": false, "size": 140, "strokeWidth": 1.5, "opacity": 1, "strokeOpacity": 0.5},
          "encoding": {
            "x": {"field": "x", "type": "quantitative", "scale": {"domain": [0, 9.03], "nice": false, "zero": false}},
            "y": {"field": "y", "type": "quantitative", "scale": {"domain": [0.483, 0.8675], "nice": false, "zero": false}},
            "color": {"field": "s", "type": "nominal", "sort": null, "scale": {"domain": ["Age", "Se biomarkers", "Size", "NHG", "Lymph Nodes"], "range": ["#4DBBD5", "#BE3B35", "#3C5488", "#00A087", "#7E6148"]}, "legend": {"title": "Individual Predictors", "orient": "none", "legendX": 20, "legendY": 8.5, "symbolType": "M-1,0H1M0.37,0A0.37,0.37,0,1,1,-0.37,0A0.37,0.37,0,1,1,0.37,0", "symbolSize": 729, "symbolStrokeWidth": 3, "symbolFillColor": "white", "symbolOpacity": 1, "symbolOffset": 3, "labelOffset": 10, "rowPadding": 6.7, "titlePadding": 10.3}}
          }
        },
        {
          "data": {"name": "ind"},
          "mark": {"type": "line", "strokeWidth": 3.6},
          "encoding": {
            "x": {"field": "x", "type": "quantitative", "scale": {"domain": [0, 9.03], "nice": false, "zero": false}, "axis": {"values": [1, 2, 3, 4, 5, 6, 7, 8], "format": "d", "labelPadding": 4, "title": "Follow Up (Years)", "titleX": 591, "titleY": 51, "titleBaseline": "alphabetic", "titleAlign": "center"}},
            "y": {"field": "y", "type": "quantitative", "scale": {"domain": [0.483, 0.8675], "nice": false, "zero": false}, "axis": {"values": [0.5, 0.6, 0.7, 0.8], "format": ".1f", "labelPadding": 2, "title": "Area Under the Curve", "titlePadding": 7}},
            "color": {"field": "s", "type": "nominal", "sort": null}
          }
        },
        {"data": {"name": "lab"}, "transform": [{"filter": "datum.s == 'Age'"}], "mark": {"type": "text", "color": "#4DBBD5"}, "encoding": {"x": {"field": "x", "type": "quantitative"}, "y": {"field": "y", "type": "quantitative"}, "text": {"field": "t", "type": "nominal"}}},
        {"data": {"name": "lab"}, "transform": [{"filter": "datum.s == 'Se biomarkers'"}], "mark": {"type": "text", "color": "#BE3B35"}, "encoding": {"x": {"field": "x", "type": "quantitative"}, "y": {"field": "y", "type": "quantitative"}, "text": {"field": "t", "type": "nominal"}}},
        {"data": {"name": "lab"}, "transform": [{"filter": "datum.s == 'Size'"}], "mark": {"type": "text", "color": "#3C5488"}, "encoding": {"x": {"field": "x", "type": "quantitative"}, "y": {"field": "y", "type": "quantitative"}, "text": {"field": "t", "type": "nominal"}}},
        {"data": {"name": "lab"}, "transform": [{"filter": "datum.s == 'NHG'"}], "mark": {"type": "text", "color": "#00A087"}, "encoding": {"x": {"field": "x", "type": "quantitative"}, "y": {"field": "y", "type": "quantitative"}, "text": {"field": "t", "type": "nominal"}}},
        {"data": {"name": "lab"}, "transform": [{"filter": "datum.s == 'Lymph Nodes'"}], "mark": {"type": "text", "color": "#7E6148"}, "encoding": {"x": {"field": "x", "type": "quantitative"}, "y": {"field": "y", "type": "quantitative"}, "text": {"field": "t", "type": "nominal"}}}
      ]
    },
    {
      "width": 566,
      "height": 817,
      "layer": [
        {
          "data": {"values": [{"v": 0.5}]},
          "mark": {"type": "rule", "color": "#000000", "strokeWidth": 2.7, "strokeDash": [2.7, 8.7]},
          "encoding": {"y": {"field": "v", "type": "quantitative", "scale": {"domain": [0.483, 0.8675], "nice": false, "zero": false}}}
        },
        {
          "data": {"name": "comb"},
          "mark": {"type": "point", "shape": "circle", "filled": false, "size": 140, "strokeWidth": 1.5, "opacity": 1, "strokeOpacity": 0.5},
          "encoding": {
            "x": {"field": "x", "type": "quantitative", "scale": {"domain": [0, 8.91], "nice": false, "zero": false}},
            "y": {"field": "y", "type": "quantitative", "scale": {"domain": [0.483, 0.8675], "nice": false, "zero": false}},
            "color": {"field": "s", "type": "nominal", "sort": null, "scale": {"domain": ["Se biomarkers + Tumour Characteristics + Age", "Tumour Characteristics + Age"], "range": ["#BE3B35", "#2E4B58"]}, "legend": {"title": "Combined Predictor Models", "orient": "none", "legendX": 18, "legendY": 8.5, "symbolType": "M-1,0H1M0.37,0A0.37,0.37,0,1,1,-0.37,0A0.37,0.37,0,1,1,0.37,0", "symbolSize": 729, "symbolStrokeWidth": 3, "symbolFillColor": "white", "symbolOpacity": 1, "symbolOffset": 3, "labelOffset": 10, "rowPadding": 5.7, "titlePadding": 9.3}}
          }
        },
        {
          "data": {"name": "comb"},
          "mark": {"type": "line", "strokeWidth": 3.6},
          "encoding": {
            "x": {"field": "x", "type": "quantitative", "scale": {"domain": [0, 8.91], "nice": false, "zero": false}, "axis": {"values": [1, 2, 3, 4, 5, 6, 7, 8], "format": "d", "labelPadding": 4, "title": null}},
            "y": {"field": "y", "type": "quantitative", "scale": {"domain": [0.483, 0.8675], "nice": false, "zero": false}, "axis": {"values": [0.5, 0.6, 0.7, 0.8], "labels": false, "title": null}},
            "color": {"field": "s", "type": "nominal", "sort": null}
          }
        },
        {"data": {"name": "lab"}, "transform": [{"filter": "datum.s == 'Se biomarkers + Tumour Characteristics + Age'"}], "mark": {"type": "text", "color": "#BE3B35"}, "encoding": {"x": {"field": "x", "type": "quantitative"}, "y": {"field": "y", "type": "quantitative"}, "text": {"field": "t", "type": "nominal"}}},
        {"data": {"name": "lab"}, "transform": [{"filter": "datum.s == 'Tumour Characteristics + Age'"}], "mark": {"type": "text", "color": "#2E4B58"}, "encoding": {"x": {"field": "x", "type": "quantitative"}, "y": {"field": "y", "type": "quantitative"}, "text": {"field": "t", "type": "nominal"}}}
      ]
    }
  ],
  "resolve": {"scale": {"x": "independent", "y": "independent", "color": "independent"}, "legend": {"color": "independent"}, "axis": {"x": "independent", "y": "independent"}}
}
